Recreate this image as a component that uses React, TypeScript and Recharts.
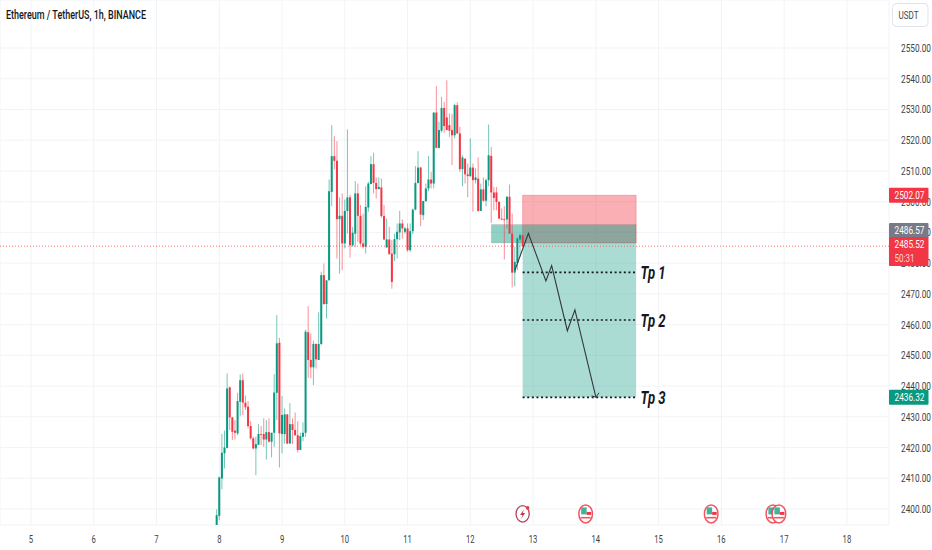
import React from "react";
import { ComposedChart, Bar, Line, XAxis, YAxis, CartesianGrid, ReferenceArea, ReferenceLine, ReferenceDot } from "recharts";

const UP = "#089981";
const DOWN = "#F23645";
const FONT = "Roboto, sans-serif";

const firstHour = 71;
const opens = [2394.8,2397.8,2409.9,2418.1,2419.9,2439.6,2429.8,2425.5,2424.6,2434.9,2441.9,2434.6,2433.3,2427.0,2423.0,2419.7,2420.9,2424.4,2424.4,2422.6,2425.0,2421.9,2424.8,2437.8,2454.1,2424.4,2424.4,2430.8,2421.3,2427.6,2425.7,2424.0,2419.2,2423.5,2424.8,2457.5,2448.5,2446.1,2453.7,2448.5,2453.7,2476.1,2466.7,2474.4,2503.2,2514.8,2513.3,2494.3,2495.4,2486.4,2497.0,2501.4,2485.8,2489.6,2502.7,2495.4,2486.4,2485.3,2498.1,2505.7,2512.2,2506.1,2504.1,2504.6,2495.3,2485.1,2487.7,2483.1,2482.9,2487.8,2490.0,2492.9,2490.2,2491.3,2484.2,2490.4,2497.4,2506.1,2511.1,2495.6,2500.2,2504.3,2507.2,2505.9,2529.0,2517.5,2523.1,2530.5,2527.4,2524.9,2523.3,2521.6,2531.4,2522.2,2510.6,2514.0,2508.9,2508.3,2511.1,2507.0,2507.5,2497.0,2504.0,2500.3,2507.0,2514.9,2503.0,2503.0,2499.9,2494.5,2494.3,2494.2,2501.6,2489.6,2476.9,2480.1,2487.7,2489.1];
const highs = [2399.9,2410.5,2424.4,2425.5,2444.1,2439.8,2430.0,2428.9,2437.8,2443.8,2444.1,2436.9,2435.1,2428.6,2423.5,2423.5,2427.6,2427.0,2429.5,2428.9,2429.5,2424.8,2443.9,2463.1,2455.7,2436.7,2432.7,2430.8,2434.4,2429.5,2431.4,2428.6,2424.8,2428.2,2458.4,2466.0,2457.1,2454.8,2453.9,2464.0,2477.2,2479.9,2474.4,2507.2,2524.9,2521.3,2519.7,2501.4,2502.7,2500.7,2523.5,2502.3,2491.8,2506.7,2505.9,2498.9,2496.1,2505.0,2506.5,2514.8,2515.9,2507.9,2507.9,2507.5,2498.9,2494.5,2491.8,2487.5,2489.6,2492.9,2497.0,2494.2,2491.8,2492.9,2492.9,2497.8,2511.6,2516.4,2511.3,2500.2,2505.9,2514.8,2509.7,2529.0,2537.6,2526.0,2534.1,2532.5,2539.5,2528.7,2528.5,2531.9,2532.3,2524.4,2515.1,2514.0,2512.4,2520.6,2512.4,2510.8,2514.4,2505.9,2507.9,2507.5,2525.1,2517.8,2504.8,2504.8,2500.2,2497.8,2498.5,2501.8,2505.6,2496.1,2485.3,2488.5,2489.6,2489.1];
const lows = [2394.5,2396.4,2406.4,2413.2,2419.7,2425.7,2422.4,2422.6,2424.0,2430.2,2430.6,2432.2,2426.2,2422.6,2419.4,2411.0,2420.8,2420.8,2420.2,2416.1,2421.6,2416.8,2420.2,2428.9,2413.5,2418.1,2421.3,2421.1,2421.3,2421.1,2423.8,2418.4,2419.2,2422.1,2423.5,2442.7,2442.5,2440.3,2445.7,2448.5,2453.3,2466.4,2462.0,2474.4,2498.5,2510.5,2481.5,2476.6,2477.7,2484.8,2489.6,2481.8,2485.3,2485.3,2486.9,2485.8,2484.8,2483.1,2496.7,2505.9,2502.7,2501.0,2504.0,2494.8,2487.5,2485.1,2482.8,2471.7,2480.7,2481.5,2487.5,2488.0,2489.5,2483.7,2483.7,2489.4,2497.2,2505.9,2492.0,2494.0,2499.9,2503.4,2504.3,2504.3,2517.3,2517.3,2522.5,2522.4,2523.3,2521.1,2511.9,2520.6,2522.0,2509.7,2505.0,2505.9,2501.4,2508.1,2496.7,2505.9,2496.7,2496.9,2499.9,2498.5,2505.0,2493.1,2497.2,2497.2,2494.3,2494.0,2481.2,2491.3,2489.6,2472.1,2472.5,2477.7,2482.0,2485.3];
const closes = [2398.0,2410.3,2418.3,2420.0,2439.2,2429.8,2425.1,2424.8,2435.1,2441.9,2434.6,2433.1,2427.0,2423.0,2419.7,2421.1,2424.4,2424.2,2422.6,2425.0,2421.9,2424.8,2437.9,2453.9,2424.6,2430.6,2430.8,2421.3,2427.6,2425.7,2424.0,2419.2,2423.7,2424.8,2457.7,2448.5,2446.1,2453.7,2448.7,2453.7,2476.1,2466.7,2474.4,2503.4,2514.8,2513.3,2494.3,2495.4,2486.4,2497.0,2501.4,2485.8,2489.9,2502.7,2495.4,2486.4,2485.3,2498.3,2505.9,2512.2,2506.1,2504.1,2504.8,2495.3,2487.7,2487.7,2482.9,2473.9,2487.8,2490.2,2492.9,2491.3,2491.3,2484.2,2490.4,2497.4,2506.1,2511.1,2495.8,2500.2,2504.3,2507.2,2505.9,2529.0,2517.5,2523.3,2530.5,2524.6,2523.3,2523.1,2521.6,2531.4,2522.2,2510.6,2514.4,2508.9,2508.3,2511.1,2507.0,2507.9,2497.0,2504.0,2500.3,2507.0,2515.1,2503.0,2501.2,2499.9,2494.5,2494.2,2494.0,2501.6,2489.6,2476.9,2480.4,2488.0,2489.1,2485.5];

const priceTicks = [2400,2410,2420,2430,2440,2450,2460,2470,2480,2490,2500,2510,2520,2530,2540,2550];
const dayLabels = [5,6,7,8,9,10,11,12,13,14,15,16,17,18];
const dayTicks = dayLabels.map((_, i) => i * 24);

const pathHours = [185.1,190.2,196.9,199.1,205.1,208.0,216.0];
const pathPrices = [2477.8,2489.7,2474.2,2479.2,2458.0,2464.8,2436.4];
const arrowHours = [217.2,216.0,214.4];
const arrowPrices = [2437.8,2436.4,2436.8];

const targetLabels = ["Tp 1","Tp 2","Tp 3"];
const targetPrices = [2477.0,2461.5,2436.32];
const eventHours = [188.0,212.1,260.1,283.7,286.0];
const eventKinds = ["bolt","flag","flag","flag","flag"];

const stopPrice = 2502.07;
const entryPrice = 2486.57;
const lastPrice = 2485.52;
const zoneTop = 2492.57;
const tradeStart = 188;
const tradeEnd = 231.4;
const zoneStart = 176;
const hourDomain = [-11.855, 328.1];
const priceDomain = [2394.79, 2565.62];

const candles = opens.map((open, i) => ({
  hour: firstHour + i, open, high: highs[i], low: lows[i], close: closes[i], range: [lows[i], highs[i]],
}));
const pathData = pathHours.map((hour, i) => ({ hour, price: pathPrices[i] }));
const arrowData = arrowHours.map((hour, i) => ({ hour, price: arrowPrices[i] }));

function Candle(props: any) {
  const { x, y, width, height, payload } = props;
  const { open, close, high, low } = payload;
  const color = close >= open ? UP : DOWN;
  const cx = x + width / 2;
  const py = (p: number) => y + ((high - p) / (high - low || 1)) * height;
  const top = py(Math.max(open, close));
  const bottom = py(Math.min(open, close));
  return (
    <g>
      <line x1={cx} x2={cx} y1={y} y2={y + height} stroke={color} strokeWidth={0.8} strokeOpacity={0.7} />
      <rect x={cx - 1} y={top} width={2} height={Math.max(bottom - top, 0.8)} fill={color} />
    </g>
  );
}

function PriceTick(props: any) {
  const { x, y, payload } = props;
  return (
    <text x={x} y={y + 4} fontFamily={FONT} fontSize={11.5} fill="#3d4149" textLength={30} lengthAdjust="spacingAndGlyphs">
      {payload.value.toFixed(2)}
    </text>
  );
}

function DayTick(props: any) {
  const { x, y, payload } = props;
  const label = String(dayLabels[payload.value / 24]);
  return (
    <text x={x} y={y + 10} textAnchor="middle" fontFamily={FONT} fontSize={11.5} fill="#3d4149" textLength={label.length * 4.3} lengthAdjust="spacingAndGlyphs">
      {label}
    </text>
  );
}

function PriceTag(props: any) {
  const { viewBox, value, dy = 0, color, sub } = props;
  const right = viewBox.x + viewBox.width;
  const h = sub ? 29 : 15;
  const top = viewBox.y + dy - h / 2;
  return (
    <g>
      <rect x={right} y={top} width={39.5} height={h} fill={color} rx={1} />
      <text x={right + 5.5} y={top + 11.5} fontFamily={FONT} fontSize={11.5} fill="#fff" textLength={30} lengthAdjust="spacingAndGlyphs">{value}</text>
      {sub ? <text x={right + 5.5} y={top + 25} fontFamily={FONT} fontSize={11.5} fill="#fff" fillOpacity={0.8} textLength={20} lengthAdjust="spacingAndGlyphs">{sub}</text> : null}
    </g>
  );
}

function TargetLabel(props: any) {
  const { viewBox, value } = props;
  return (
    <text x={viewBox.x + viewBox.width + 4.5} y={viewBox.y + 7} fontFamily={FONT} fontSize={18} fontWeight={700} fontStyle="italic" fill="#131722" textLength={25} lengthAdjust="spacingAndGlyphs">{value}</text>
  );
}

function EventIcon(props: any) {
  const { cx, cy, kind } = props;
  if (kind === "bolt") {
    return (
      <g>
        <ellipse cx={cx} cy={cy} rx={6.6} ry={8.2} fill="#fff" stroke="#b2465c" strokeWidth={1.3} />
        <path d={`M${cx + 1.5} ${cy - 5}L${cx - 2.5} ${cy + 1}L${cx} ${cy + 1}L${cx - 1.5} ${cy + 5}L${cx + 2.5} ${cy - 1}L${cx} ${cy - 1}Z`} fill="#c8324f" />
        <circle cx={cx + 5} cy={cy - 6} r={1.8} fill={DOWN} />
      </g>
    );
  }
  return (
    <g>
      <ellipse cx={cx} cy={cy} rx={6.8} ry={9} fill="#fff" stroke={DOWN} strokeOpacity={0.85} strokeWidth={1.5} />
      <rect x={cx - 4.5} y={cy - 6.5} width={5.5} height={7} fill="#3eb49f" />
      <rect x={cx + 1} y={cy - 2} width={4.5} height={3} fill={DOWN} />
      <rect x={cx - 5} y={cy + 3} width={10} height={1.6} fill={DOWN} fillOpacity={0.85} />
    </g>
  );
}

export default function App() {
  return (
    <div style={{ position: "absolute", left: 0, top: 0, width: 932, height: 550, background: "#fff", overflow: "hidden" }}>
      <ComposedChart width={932} height={550} data={candles} margin={{ top: 0, right: 0, bottom: 0, left: 0 }} barSize={2}>
        <CartesianGrid stroke="#f1f3f6" strokeWidth={1} />
        <XAxis dataKey="hour" type="number" scale="linear" domain={hourDomain} allowDataOverflow ticks={dayTicks} interval={0}
          axisLine={false} tickLine={false} height={25} tick={<DayTick />} />
        <YAxis orientation="right" type="number" domain={priceDomain} allowDataOverflow ticks={priceTicks} interval={0}
          axisLine={false} tickLine={false} width={43} tick={<PriceTick />} tickMargin={6} />

        <Bar dataKey="range" shape={<Candle />} isAnimationActive={false} />

        <ReferenceLine y={lastPrice} stroke={DOWN} strokeOpacity={0.7} strokeDasharray="1 2" strokeWidth={1} />
        <ReferenceArea x1={tradeStart} x2={tradeEnd} y1={entryPrice} y2={stopPrice} fill={DOWN} fillOpacity={0.4} stroke={DOWN} strokeOpacity={0.3} />
        <ReferenceArea x1={tradeStart} x2={tradeEnd} y1={targetPrices[2]} y2={entryPrice} fill={UP} fillOpacity={0.34} stroke="none" />
        <ReferenceArea x1={zoneStart} x2={tradeEnd} y1={entryPrice} y2={zoneTop} fill={UP} fillOpacity={0.45} stroke={DOWN} strokeOpacity={0.12} />

        {targetLabels.map((label, i) => (
          <ReferenceLine key={label} segment={[{ x: tradeStart, y: targetPrices[i] }, { x: tradeEnd, y: targetPrices[i] }]}
            stroke="#131722" strokeWidth={1.6} strokeDasharray="2 2.6" label={<TargetLabel value={label} />} />
        ))}

        <Line data={pathData} dataKey="price" type="linear" stroke="#33363f" strokeWidth={1.1} dot={false} activeDot={false} isAnimationActive={false} />
        <Line data={arrowData} dataKey="price" type="linear" stroke="#33363f" strokeWidth={1} dot={false} activeDot={false} isAnimationActive={false} />

        {eventHours.map((hour, i) => (
          <ReferenceDot key={hour} x={hour} y={2398.4} ifOverflow="visible" shape={<EventIcon kind={eventKinds[i]} />} />
        ))}
      </ComposedChart>
      <div style={{ position: "absolute", left: 0, top: 0, pointerEvents: "none" }}>
        <ComposedChart width={932} height={550} data={candles} margin={{ top: 0, right: 43, bottom: 25, left: 0 }} style={{ background: "transparent" }}>
          <XAxis dataKey="hour" type="number" scale="linear" domain={hourDomain} allowDataOverflow hide />
          <YAxis type="number" domain={priceDomain} allowDataOverflow hide />
          <ReferenceLine y={stopPrice} stroke="none" label={<PriceTag value={stopPrice.toFixed(2)} color={DOWN} />} />
          <ReferenceLine y={targetPrices[2]} stroke="none" label={<PriceTag value={targetPrices[2].toFixed(2)} color={UP} />} />
          <ReferenceLine y={entryPrice} stroke="none" label={<PriceTag value={entryPrice.toFixed(2)} color="#787B86" dy={-12.5} />} />
          <ReferenceLine y={lastPrice} stroke="none" label={<PriceTag value={lastPrice.toFixed(2)} sub="50:31" color={DOWN} dy={5.3} />} />
        </ComposedChart>
      </div>
      <svg width={932} height={30} style={{ position: "absolute", left: 0, top: 0 }}>
        <text x={6} y={19} fontFamily={FONT} fontSize={13} fontWeight={500} fill="#131722" textLength={140} lengthAdjust="spacingAndGlyphs">Ethereum / TetherUS, 1h, BINANCE</text>
        <rect x={892.5} y={3.5} width={35.5} height={23} rx={4} fill="#fff" stroke="#e0e3eb" />
        <text x={898.5} y={19} fontFamily={FONT} fontSize={11.5} fill="#3d4149" textLength={20} lengthAdjust="spacingAndGlyphs">USDT</text>
      </svg>
    </div>
  );
}
